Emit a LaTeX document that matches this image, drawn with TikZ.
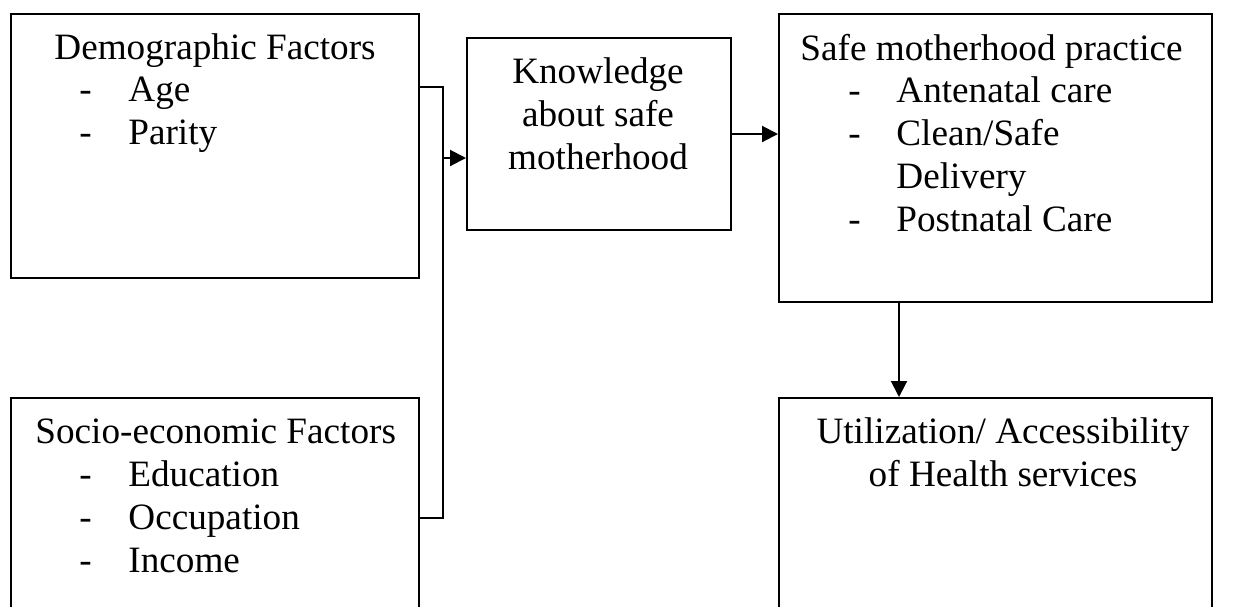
\documentclass[tikz,border=0pt]{standalone}
\usepackage{fontspec}
\setmainfont{Liberation Serif}
\usetikzlibrary{arrows.meta}
\begin{document}
\begin{tikzpicture}[x=0.5pt,y=-0.5pt,
  box/.style={draw=black,line width=1pt,rectangle,inner sep=0pt,fill=none},
  lbl/.style={inner sep=0pt,anchor=base west,font=\fontsize{18.6}{21.5}\selectfont},
  clbl/.style={inner sep=0pt,anchor=base,font=\fontsize{18.6}{21.5}\selectfont},
  link/.style={draw=black,line width=1pt},
  arr/.style={link,-{Triangle[length=8pt,width=8pt]}}]
\useasboundingbox (0,0) rectangle (1235,606);
\clip (0,0) rectangle (1235,606);
\fill[white] (0,0) rectangle (1235,606);
% boxes
\node[box,minimum width=204pt,minimum height=132pt] (demo) at (215,146) {};
\node[box,minimum width=204pt,minimum height=151pt] (socio) at (215,549) {};
\node[box,minimum width=132pt,minimum height=96pt] (know) at (599,134) {};
\node[box,minimum width=216.5pt,minimum height=144pt] (safe) at (995.5,158) {};
\node[box,minimum width=216.5pt,minimum height=151pt] (util) at (995.5,549) {};
% texts
\node[lbl] (d0) at (54,59) {Demographic Factors};
\node[lbl] (d1a) at (79,101) {-};
\node[lbl] (d1) at (128,101) {Age};
\node[lbl] (d2a) at (79,144) {-};
\node[lbl] (d2) at (128,144) {Parity};
\node[lbl] (s0) at (35,443) {Socio-economic Factors};
\node[lbl] (s1a) at (79,486) {-};
\node[lbl] (s1) at (128,486) {Education};
\node[lbl] (s2a) at (79,529) {-};
\node[lbl] (s2) at (128,529) {Occupation};
\node[lbl] (s3a) at (79,572) {-};
\node[lbl] (s3) at (128,572) {Income};
\node[clbl] (k1) at (598,83) {Knowledge};
\node[clbl] (k2) at (598,126) {about safe};
\node[clbl] (k3) at (598,169) {motherhood};
\node[lbl] (p0) at (800,60) {Safe motherhood practice};
\node[lbl] (p1a) at (848,102) {-};
\node[lbl] (p1) at (896,102) {Antenatal care};
\node[lbl] (p2a) at (848,145) {-};
\node[lbl] (p2) at (896,145) {Clean/Safe};
\node[lbl] (p2b) at (896,188) {Delivery};
\node[lbl] (p3a) at (848,231) {-};
\node[lbl] (p3) at (896,231) {Postnatal Care};
\node[clbl] (u1) at (1003,443) {Utilization/ Accessibility};
\node[clbl] (u2) at (1003,486) {of Health services};
% connectors
\coordinate (j1) at (443,87);
\coordinate (j2) at (443,518);
\coordinate (ja) at (443,158);
\coordinate (jd) at (899,350);
\draw[link] (demo.east |- j1) -- (j1) -- (j2) -- (socio.east |- j2);
\draw[arr] (ja) -- (know.west |- ja);
\draw[arr] (know.east) -- (safe.west |- know.east);
\draw[arr] (safe.south -| jd) -- (util.north -| jd);
\end{tikzpicture}
\end{document}
